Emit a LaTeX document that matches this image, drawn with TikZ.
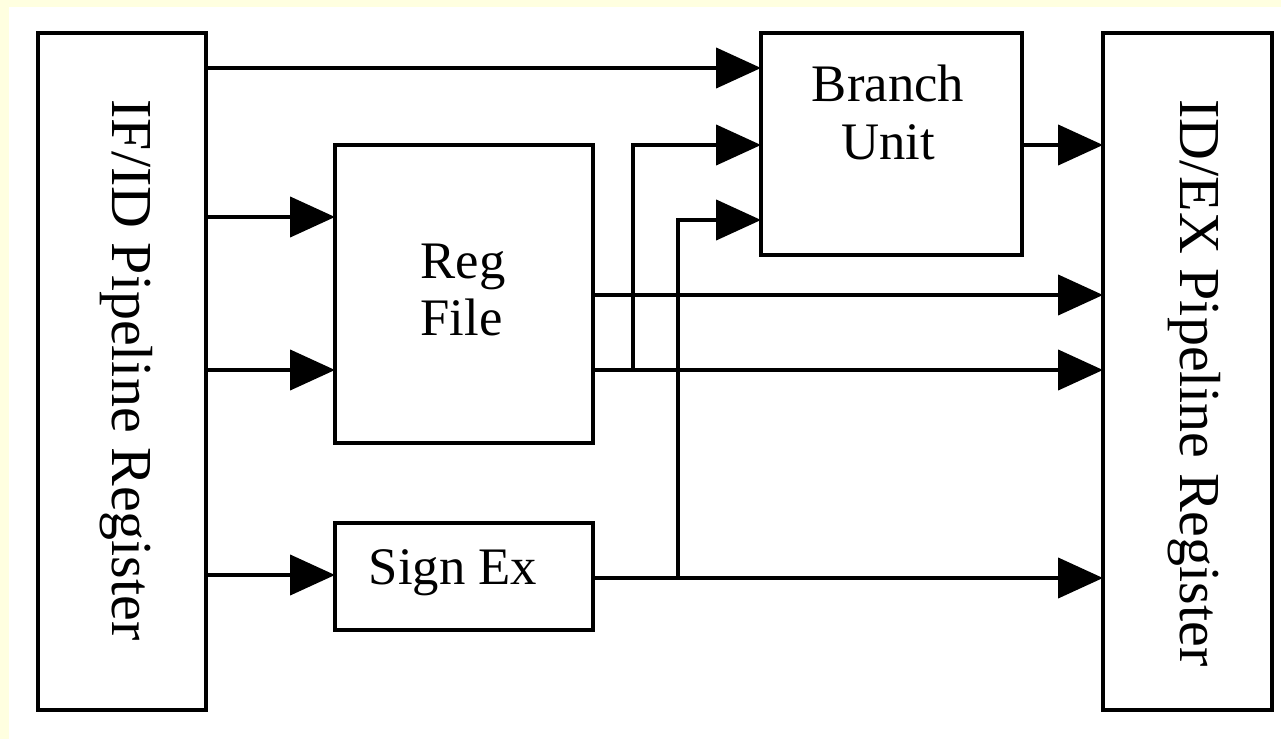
\documentclass[tikz,border=0pt]{standalone}
\usepackage{fontspec}
\setmainfont{Liberation Serif}
\usetikzlibrary{arrows.meta}
\definecolor{bgyellow}{RGB}{255,255,224}

\begin{document}
\begin{tikzpicture}[x=0.02cm,y=-0.02cm,
    blk/.style={draw,line width=0.085cm,outer sep=0pt,inner sep=0pt},
    lbl/.style={font=\fontsize{30}{33}\selectfont},
    reglbl/.style={font=\fontsize{33}{36}\selectfont,rotate=-90},
    arr/.style={line width=0.085cm,-{Triangle[length=0.9cm,width=0.8cm]}}]
  % Hintergrund
  \useasboundingbox (0,0) rectangle (1281,739);
  \fill[bgyellow] (0,0) rectangle (1281,739);
  \fill[white] (9,7) rectangle (1281,739);
  % Register und Blöcke
  \node[blk,minimum width=3.36cm,minimum height=13.54cm] (ifid) at (122,371.5) {};
  \node[blk,minimum width=3.38cm,minimum height=13.54cm] (idex) at (1187.5,371.5) {};
  \node[blk,minimum width=5.22cm,minimum height=4.44cm] (branch) at (891.5,144) {};
  \node[blk,minimum width=5.16cm,minimum height=5.96cm] (regfile) at (464,294) {};
  \node[blk,minimum width=5.16cm,minimum height=2.14cm] (signex) at (464,576.5) {};
  % Beschriftung
  \node[reglbl] (ifidtxt) at (126,370) {IF/ID Pipeline Register};
  \node[reglbl] (idextxt) at (1194,383) {ID/EX Pipeline Register};
  \node[lbl,align=center] (branchtxt) at (888,112) {Branch\\Unit};
  \node[lbl,align=left] (regtxt) at (463,290) {Reg\\File};
  \node[lbl,anchor=base] (signtxt) at (453,584) {Sign Ex};
  % Verbindungen
  \draw[arr] (ifid.east |- 0,68) -- (branch.west |- 0,68);
  \draw[arr] (ifid.east |- 0,217) -- (regfile.west |- 0,217);
  \draw[arr] (ifid.east |- 0,370) -- (regfile.west |- 0,370);
  \draw[arr] (ifid.east |- 0,575) -- (signex.west |- 0,575);
  \draw[arr] (branch.east |- 0,145) -- (idex.west |- 0,145);
  \draw[arr] (regfile.east |- 0,295) -- (idex.west |- 0,295);
  \draw[arr] (regfile.east |- 0,370) -- (idex.west |- 0,370);
  \draw[arr] (signex.east |- 0,578) -- (idex.west |- 0,578);
  % Abzweigungen zur Branch Unit
  \coordinate (jreg) at (633,370);
  \coordinate (jsign) at (678,578);
  \draw[arr] (jreg) |- (branch.west |- 0,145);
  \draw[arr] (jsign) |- (branch.west |- 0,220);
\end{tikzpicture}
\end{document}
